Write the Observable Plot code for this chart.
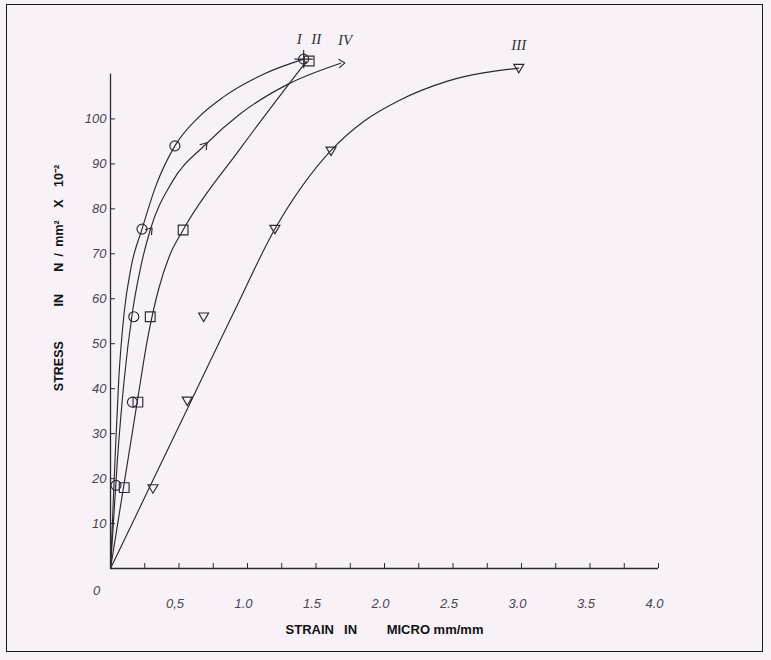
<!DOCTYPE html>
<html><head><meta charset="utf-8">
<script src="https://cdn.jsdelivr.net/npm/d3@7"></script>
<script src="https://cdn.jsdelivr.net/npm/@observablehq/plot@0.6"></script>
<style>
body{margin:0;background:#f8f1f8;}
#wrap{position:relative;width:771px;height:660px;background:#f8f1f8;overflow:hidden;}
#frame{position:absolute;left:6px;top:4px;width:757px;height:648px;border:1px solid #1a1a1a;box-sizing:border-box;}
#chart{position:absolute;left:0;top:0;}
</style></head><body>
<div id="wrap"><div id="frame"></div><div id="chart"></div></div>
<script>
// ---- axis ticks / labels ----
const xTickValues = [0.25,0.5,0.75,1,1.25,1.5,1.75,2,2.25,2.5,2.75,3,3.25,3.5,3.75,4];
const xLabelValues = [0.5,1,1.5,2,2.5,3,3.5,4];
const xLabelTexts = ["0,5","1.0","1.5","2.0","2.5","3.0","3.5","4.0"];
const originLabel = "0";
const yTickValues = [10,20,30,40,50,60,70,80,90,100];
const yLabelTexts = ["10","20","30","40","50","60","70","80","90","100"];
const xTitle = "STRAIN\u2002 IN\u2003\u2003 MICRO mm/mm";
const yTitle = "STRESS\u2003\u2003\u2002 IN\u2003\u2002 N\u2002/\u2002mm\u00b2\u2003X\u200310\u207b\u00b2";
const seriesNames = ["I","II","III","IV"];

// ---- hand-drawn curves (strain, stress) ----
const curveI   = [[0,0],[0.03,22],[0.06,42],[0.1,57],[0.15,67],[0.23,75.5],[0.33,85],[0.47,94],[0.64,100.3],[0.82,104.8],[1.12,110],[1.41,113.3]];
const curveII  = [[0,0],[0.1,19],[0.2,38],[0.27,51],[0.35,62],[0.43,69.5],[0.53,75.3],[0.95,93.5],[1.43,112.8]];
const curveIII = [[0,0],[0.3,19],[0.6,38],[0.9,57],[1.2,75.5],[1.61,93],[1.85,99.5],[2.1,104],[2.46,108.4],[2.98,111.3]];
const curveIV  = [[0,0],[0.05,24],[0.1,42],[0.16,57],[0.22,67],[0.29,75.3],[0.45,86],[0.69,94.2],[0.95,101.2],[1.3,107.8],[1.68,112.4]];

// ---- plotted test points ----
const pointsI   = [[0.04,18.5],[0.16,37],[0.17,56],[0.23,75.5],[0.47,94],[1.41,113.3]];
const pointsII  = [[0.1,18],[0.2,37],[0.29,56],[0.53,75.3],[1.45,112.9]];
const pointsIII = [[0.31,17.8],[0.56,37.3],[0.68,56],[1.2,75.5],[1.61,92.9],[2.98,111.3]];
const pointsIV  = [[0.29,75.3],[0.69,94.2]];
const endIV     = [[1.69,112.4]];
const endI      = [[1.41,113.3]];

const ink = "#2c2833";
const X = d => d[0], Y = d => d[1];

const triDown = {draw(ctx, size){ const r = Math.sqrt(size/Math.PI);
  ctx.moveTo(-r,-0.75*r); ctx.lineTo(r,-0.75*r); ctx.lineTo(0,0.95*r); ctx.closePath(); }};
function chevron(deg){ const a = deg*Math.PI/180; return {draw(ctx, size){
  const r = Math.sqrt(size/Math.PI);
  const tx = Math.cos(a)*r*0.6, ty = -Math.sin(a)*r*0.6;
  for (const s of [1,-1]) { const b = a + Math.PI + s*0.6;
    ctx.moveTo(tx + Math.cos(b)*1.5*r, ty - Math.sin(b)*1.5*r); ctx.lineTo(tx, ty); }
}}; }

const xLab = new Map(xLabelValues.map((v,i)=>[v,xLabelTexts[i]]));
const yLab = new Map(yTickValues.map((v,i)=>[v,yLabelTexts[i]]));
const tickFont = {fontFamily:"Liberation Sans, Arial, sans-serif", fontStyle:"italic", fontSize:13, fill:"#4a4650"};
const titleFont = {fontFamily:"Liberation Sans, Arial, sans-serif", fontWeight:"bold", fill:"#111"};
const romanFont = {fontFamily:"Liberation Serif, serif", fontStyle:"italic", fontSize:15, fill:"#333"};
const lineOpts = {x:X, y:Y, curve:"monotone-x", stroke:ink, strokeWidth:1.15};
const dotOpts = {x:X, y:Y, stroke:ink, strokeWidth:1.15, fill:"none", r:5};

const chart = Plot.plot({
  width:771, height:660,
  marginLeft:110, marginRight:113, marginTop:51, marginBottom:92,
  style:{background:"transparent", color:ink, overflow:"visible"},
  x:{domain:[0,4]},
  y:{domain:[0,115]},
  marks:[
    Plot.ruleY([0], {x1:0, x2:4, stroke:ink, strokeWidth:1.3}),
    Plot.ruleX([0], {y1:0, y2:110, stroke:ink, strokeWidth:1.3}),
    Plot.axisX({ticks:xTickValues, tickSize:-5, tickFormat:()=>"", label:null, stroke:ink}),
    Plot.axisX({ticks:xLabelValues, tickSize:0, tickPadding:30, dx:-4, tickFormat:d=>xLab.get(d), label:null, ...tickFont}),
    Plot.text([[0,0]], {x:X, y:Y, text:()=>originLabel, dx:-14, dy:22, ...tickFont}),
    Plot.axisY({ticks:yTickValues, tickSize:-5, tickFormat:()=>"", label:null, stroke:ink}),
    Plot.axisY({ticks:yTickValues, tickSize:0, tickPadding:4, tickFormat:d=>yLab.get(d), label:null, ...tickFont}),
    Plot.text([xTitle], {frameAnchor:"bottom", dy:65, text:d=>d, textAnchor:"middle", letterSpacing:1, fontSize:13, ...titleFont}),
    Plot.text([yTitle], {frameAnchor:"left", dx:-52, dy:-32, rotate:-90, textAnchor:"middle", text:d=>d, letterSpacing:1, fontSize:12.5, ...titleFont}),
    Plot.line(curveI, lineOpts),
    Plot.line(curveII, lineOpts),
    Plot.line(curveIII, lineOpts),
    Plot.line(curveIV, lineOpts),
    Plot.dot(pointsI, {...dotOpts, symbol:"circle"}),
    Plot.dot(endI, {...dotOpts, symbol:"plus", r:6}),
    Plot.dot(pointsII, {...dotOpts, symbol:"square", r:5.5}),
    Plot.dot(pointsIII, {...dotOpts, symbol:triDown, r:5}),
    Plot.dot(pointsIV, {...dotOpts, symbol:chevron(50), r:5}),
    Plot.dot(endIV, {...dotOpts, symbol:chevron(5), r:5}),
    Plot.text([endI[0]], {x:X, y:Y, text:()=>seriesNames[0], dy:-20, dx:-2, textAnchor:"end", ...romanFont}),
    Plot.text([pointsII[pointsII.length-1]], {x:X, y:Y, text:()=>seriesNames[1], dy:-22, dx:2, textAnchor:"start", ...romanFont}),
    Plot.text([pointsIII[pointsIII.length-1]], {x:X, y:Y, text:()=>seriesNames[2], dy:-23, ...romanFont}),
    Plot.text([endIV[0]], {x:X, y:Y, text:()=>seriesNames[3], dy:-23, dx:3, ...romanFont})
  ]
});
document.getElementById("chart").appendChild(chart);
</script>
</body></html>
